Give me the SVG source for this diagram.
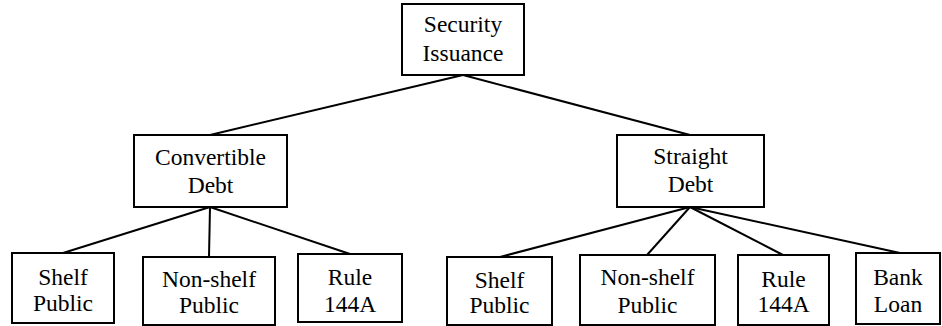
<svg xmlns="http://www.w3.org/2000/svg" width="942" height="326" viewBox="0 0 942 326">
<style>
rect{fill:#fff;stroke:#000;stroke-width:2}
line{stroke:#000;stroke-width:2}
text{font-family:"Liberation Serif","Times New Roman",Times,serif;font-size:23.5px;fill:#000;text-anchor:middle}
</style>
<rect x="0" y="0" width="942" height="326" style="stroke:none"/>
<g id="connectors">
<line x1="463" y1="75" x2="210" y2="135"/>
<line x1="463" y1="75" x2="690" y2="135"/>
<line x1="210" y1="207" x2="63" y2="253"/>
<line x1="210" y1="207" x2="209" y2="257"/>
<line x1="210" y1="207" x2="350" y2="254"/>
<line x1="690" y1="207" x2="500" y2="257"/>
<line x1="690" y1="207" x2="647" y2="255"/>
<line x1="690" y1="207" x2="783" y2="255"/>
<line x1="690" y1="207" x2="900" y2="253"/>
</g>
<g id="security-issuance" font-family="Liberation Serif, serif"><rect x="402" y="4" width="122" height="71"/><text x="463" y="32">Security</text><text x="463" y="61">Issuance</text></g>
<g id="convertible-debt"><rect x="134" y="135" width="153" height="72"/><text x="210.5" y="165">Convertible</text><text x="210.5" y="193">Debt</text></g>
<g id="straight-debt"><rect x="617" y="135" width="147" height="72"/><text x="690.5" y="164">Straight</text><text x="690.5" y="192">Debt</text></g>
<g id="conv-shelf-public"><rect x="12" y="253" width="102" height="70"/><text x="63" y="285">Shelf</text><text x="63" y="311">Public</text></g>
<g id="conv-nonshelf-public"><rect x="143" y="257" width="132" height="68"/><text x="209" y="287">Non-shelf</text><text x="209" y="313">Public</text></g>
<g id="conv-rule-144a"><rect x="298" y="254" width="104" height="68"/><text x="350" y="285">Rule</text><text x="350" y="312">144A</text></g>
<g id="straight-shelf-public"><rect x="447" y="257" width="105" height="68"/><text x="499.5" y="288">Shelf</text><text x="499.5" y="313">Public</text></g>
<g id="straight-nonshelf-public"><rect x="580" y="255" width="135" height="70"/><text x="647.5" y="285">Non-shelf</text><text x="647.5" y="313">Public</text></g>
<g id="straight-rule-144a"><rect x="738" y="255" width="91" height="70"/><text x="783.5" y="287">Rule</text><text x="783.5" y="312">144A</text></g>
<g id="bank-loan"><rect x="856" y="253" width="84" height="71"/><text x="898" y="285">Bank</text><text x="898" y="312">Loan</text></g>
</svg>
